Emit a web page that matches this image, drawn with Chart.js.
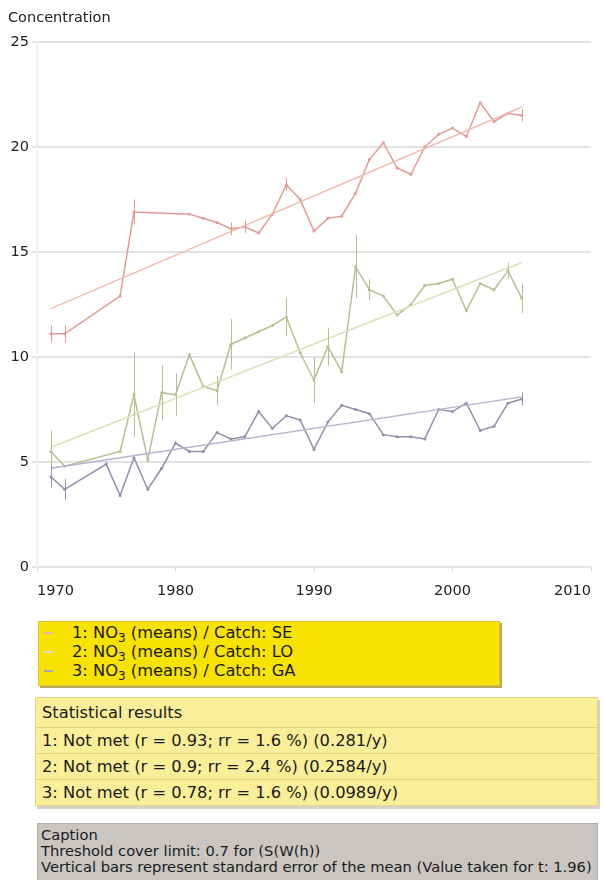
<!DOCTYPE html>
<html>
<head>
<meta charset="utf-8">
<script src="https://cdn.jsdelivr.net/npm/chart.js@4.4.1/dist/chart.umd.min.js"></script>
<style>
  body {
    margin: 0;
    background: #ffffff;
    font-family: "DejaVu Sans", Verdana, sans-serif;
    color: #1a1a1a;
    width: 603px;
    height: 880px;
    position: relative;
    overflow: hidden;
  }
  #chartBox {
    position: absolute;
    left: 0;
    top: 0;
    width: 603px;
    height: 606px;
  }
  #legend {
    position: absolute;
    left: 38px;
    top: 621px;
    width: 462px;
    height: 65px;
    background: #f8e200;
    border: 1px solid #d6c640;
    box-shadow: 2px 2px 0 #b9ab55;
    font-size: 16.3px;
    line-height: 19px;
    padding-top: 1px;
    box-sizing: border-box;
  }
  #legend div {
    position: relative;
    padding-left: 33px;
    height: 19px;
  }
  #legend span.mark {
    position: absolute;
    left: 5px;
    top: 9px;
    width: 9px;
    height: 2px;
  }
  sub {
    font-size: 12px;
    line-height: 0;
    vertical-align: -4px;
  }
  #stats {
    position: absolute;
    left: 35px;
    top: 697px;
    width: 561px;
    background: #faee98;
    border: 1px solid #e4d58a;
    box-shadow: 2px 3px 0 #d8d4c4;
    font-size: 16.3px;
  }
  #stats div {
    height: 25px;
    line-height: 25px;
    padding-left: 6px;
    border-top: 1px solid #e0cf7a;
  }
  #stats div:first-child {
    border-top: none;
    height: 29px;
    line-height: 29px;
  }
  #caption {
    position: absolute;
    left: 37px;
    top: 823px;
    width: 561px;
    height: 60px;
    background: #c9c6c1;
    border: 1px solid #b3afa8;
    font-size: 14.7px;
    line-height: 16px;
    padding: 3px 0 0 3px;
    box-sizing: border-box;
    white-space: nowrap;
  }
</style>
</head>
<body>
<div id="chartBox"><canvas id="myChart"></canvas></div>

<div id="legend">
  <div><span class="mark" style="background:#f0b4a8"></span>1: NO<sub>3</sub> (means) / Catch: SE</div>
  <div><span class="mark" style="background:#d8e2b8"></span>2: NO<sub>3</sub> (means) / Catch: LO</div>
  <div><span class="mark" style="background:#a8a8b8"></span>3: NO<sub>3</sub> (means) / Catch: GA</div>
</div>

<div id="stats">
  <div>Statistical results</div>
  <div>1: Not met (r = 0.93; rr = 1.6 %) (0.281/y)</div>
  <div>2: Not met (r = 0.9; rr = 2.4 %) (0.2584/y)</div>
  <div>3: Not met (r = 0.78; rr = 1.6 %) (0.0989/y)</div>
</div>

<div id="caption">
  Caption<br>
  Threshold cover limit: 0.7 for (S(W(h))<br>
  Vertical bars represent standard error of the mean (Value taken for t: 1.96)
</div>

<script>
// Series 1: NO3 / SE
const seYears = [1971, 1972, 1976, 1977, 1981, 1982, 1983, 1984, 1985, 1986, 1987, 1988, 1989, 1990, 1991, 1992, 1993, 1994, 1995, 1996, 1997, 1998, 1999, 2000, 2001, 2002, 2003, 2004, 2005];
const seValues = [11.1, 11.1, 12.9, 16.9, 16.8, 16.6, 16.4, 16.1, 16.2, 15.9, 16.8, 18.2, 17.5, 16.0, 16.6, 16.7, 17.8, 19.4, 20.2, 19.0, 18.7, 20.0, 20.6, 20.9, 20.5, 22.1, 21.2, 21.6, 21.5];
const seErrors = [0.4, 0.4, 0, 0.6, 0, 0, 0, 0.3, 0.3, 0, 0, 0.3, 0, 0, 0, 0, 0, 0, 0, 0, 0, 0, 0, 0, 0, 0, 0, 0, 0.3];

// Series 2: NO3 / LO
const loYears = [1971, 1972, 1976, 1977, 1978, 1979, 1980, 1981, 1982, 1983, 1984, 1985, 1986, 1987, 1988, 1989, 1990, 1991, 1992, 1993, 1994, 1995, 1996, 1997, 1998, 1999, 2000, 2001, 2002, 2003, 2004, 2005];
const loValues = [5.5, 4.8, 5.5, 8.2, 5.1, 8.3, 8.2, 10.1, 8.6, 8.4, 10.6, 10.9, 11.2, 11.5, 11.9, 10.2, 8.9, 10.5, 9.3, 14.3, 13.2, 12.9, 12.0, 12.5, 13.4, 13.5, 13.7, 12.2, 13.5, 13.2, 14.1, 12.8];
const loErrors = [1.0, 0, 0, 2.0, 0, 1.3, 1.0, 0, 0, 0.7, 1.2, 0, 0, 0, 0.9, 0, 1.1, 0.9, 0, 1.5, 0.5, 0, 0, 0, 0, 0, 0, 0, 0, 0, 0.4, 0.7];

// Series 3: NO3 / GA
const gaYears = [1971, 1972, 1975, 1976, 1977, 1978, 1979, 1980, 1981, 1982, 1983, 1984, 1985, 1986, 1987, 1988, 1989, 1990, 1991, 1992, 1993, 1994, 1995, 1996, 1997, 1998, 1999, 2000, 2001, 2002, 2003, 2004, 2005];
const gaValues = [4.3, 3.7, 4.9, 3.4, 5.2, 3.7, 4.7, 5.9, 5.5, 5.5, 6.4, 6.1, 6.2, 7.4, 6.6, 7.2, 7.0, 5.6, 6.9, 7.7, 7.5, 7.3, 6.3, 6.2, 6.2, 6.1, 7.5, 7.4, 7.8, 6.5, 6.7, 7.8, 8.0];
const gaErrors = [0.5, 0.5, 0, 0, 0, 0, 0, 0, 0, 0, 0, 0, 0, 0, 0, 0, 0, 0, 0, 0, 0, 0, 0, 0, 0, 0, 0, 0, 0, 0, 0, 0, 0.3];

// Trend lines (end points)
const trendYears = [1971, 2005];
const seTrend = [12.3, 21.9];
const loTrend = [5.7, 14.5];
const gaTrend = [4.7, 8.1];

const yTicks = [0, 5, 10, 15, 20, 25];
const xTicks = [1970, 1980, 1990, 2000, 2010];

function toPoints(xs, ys) {
  return xs.map((x, i) => ({ x: x, y: ys[i] }));
}

function seriesDataset(xs, ys, errs, color) {
  return {
    data: toPoints(xs, ys),
    errors: errs,
    borderColor: color,
    backgroundColor: color,
    borderWidth: 1.5,
    pointRadius: 1.5,
    pointBorderWidth: 0,
    tension: 0,
  };
}

function trendDataset(ys, color) {
  return {
    data: toPoints(trendYears, ys),
    borderColor: color,
    borderWidth: 1.5,
    pointRadius: 0,
  };
}

// vertical error bars, drawn with the chart's own scales
const errorBars = {
  id: "errorBars",
  afterDatasetsDraw(chart) {
    const ctx = chart.ctx;
    const xs = chart.scales.x;
    const ys = chart.scales.y;
    ctx.save();
    ctx.lineWidth = 1;
    chart.data.datasets.forEach((ds) => {
      if (!ds.errors) return;
      ctx.strokeStyle = ds.borderColor;
      ds.data.forEach((p, i) => {
        const e = ds.errors[i];
        if (!e) return;
        const px = Math.round(xs.getPixelForValue(p.x)) + 0.5;
        ctx.beginPath();
        ctx.moveTo(px, ys.getPixelForValue(p.y - e));
        ctx.lineTo(px, ys.getPixelForValue(p.y + e));
        ctx.stroke();
      });
    });
    ctx.restore();
  },
};

const ctx = document.getElementById("myChart").getContext("2d");

new Chart(ctx, {
  type: "line",
  data: {
    datasets: [
      trendDataset(seTrend, "#f2bcae"),
      trendDataset(loTrend, "#d9e3bd"),
      trendDataset(gaTrend, "#b4b4d2"),
      seriesDataset(seYears, seValues, seErrors, "#e39a93"),
      seriesDataset(loYears, loValues, loErrors, "#b4c090"),
      seriesDataset(gaYears, gaValues, gaErrors, "#8f8fae"),
    ],
  },
  options: {
    responsive: true,
    maintainAspectRatio: false,
    animation: false,
    layout: {
      padding: { left: 8, right: 11, top: 0, bottom: 0 },
    },
    plugins: {
      legend: { display: false },
      tooltip: { enabled: false },
      title: {
        display: true,
        text: "Concentration",
        align: "start",
        color: "#222222",
        font: { family: "DejaVu Sans", size: 14.5, weight: "normal" },
        padding: { top: 10, bottom: 14.5 },
      },
    },
    scales: {
      x: {
        type: "linear",
        min: xTicks[0],
        max: xTicks[xTicks.length - 1],
        afterBuildTicks: (scale) => {
          scale.ticks = xTicks.map((v) => ({ value: v }));
        },
        afterFit: (scale) => {
          scale.height = 39;
        },
        ticks: {
          align: "inner",
          padding: 12,
          color: "#222222",
          font: { family: "DejaVu Sans", size: 14.5 },
          callback: (v) => String(v),
        },
        grid: {
          drawOnChartArea: false,
          drawTicks: true,
          tickLength: 4,
          tickColor: "#d8d8d8",
        },
        border: { color: "#e6e6e6", width: 1 },
      },
      y: {
        min: yTicks[0],
        max: yTicks[yTicks.length - 1],
        afterBuildTicks: (scale) => {
          scale.ticks = yTicks.map((v) => ({ value: v }));
        },
        afterFit: (scale) => {
          scale.width = 29;
        },
        ticks: {
          padding: 3,
          color: "#222222",
          font: { family: "DejaVu Sans", size: 14.5 },
        },
        grid: {
          color: "#e2e2e2",
          lineWidth: 2,
          tickLength: 5,
        },
        border: { color: "#efefef", width: 2 },
      },
    },
  },
  plugins: [errorBars],
});
</script>
</body>
</html>
